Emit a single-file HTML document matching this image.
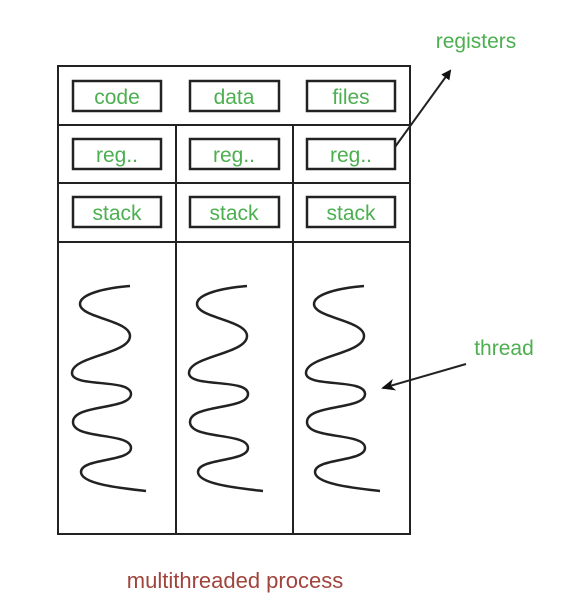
<!DOCTYPE html>
<html><head><style>
body{margin:0;background:#fff;width:567px;height:608px;overflow:hidden}
text{font-family:"Liberation Sans",sans-serif}
</style></head><body>
<svg width="567" height="608" viewBox="0 0 567 608">
<defs><marker id="a" markerWidth="10" markerHeight="10" refX="8" refY="5" orient="auto" markerUnits="userSpaceOnUse"><path d="M0,0 L10,5 L0,10 Z" fill="#111"/></marker>
<marker id="b" markerWidth="14" markerHeight="12" refX="12" refY="6" orient="auto" markerUnits="userSpaceOnUse"><path d="M0,0 L14,6 L0,12 L4,6 Z" fill="#111"/></marker></defs>
<g stroke="#222" stroke-width="2" fill="none">
<rect x="58" y="66" width="352" height="468"/>
<line x1="58" y1="125" x2="410" y2="125"/>
<line x1="58" y1="183" x2="410" y2="183"/>
<line x1="58" y1="242" x2="410" y2="242"/>
<line x1="176" y1="125" x2="176" y2="534"/>
<line x1="293" y1="125" x2="293" y2="534"/>
<g stroke-width="2.5">
<rect x="73" y="81" width="88" height="30"/><rect x="190" y="81" width="89" height="30"/><rect x="307" y="81" width="88" height="30"/>
<rect x="73" y="139" width="88" height="30"/><rect x="190" y="139" width="89" height="30"/><rect x="307" y="139" width="88" height="30"/>
<rect x="73" y="197" width="88" height="30"/><rect x="190" y="197" width="89" height="30"/><rect x="307" y="197" width="88" height="30"/>
</g>
<g id="s"><path d="M130,286 C105,288 80,294 80,304 C80,318 130,320 130,336 C130,354 72,356 72,373 C72,388 131,378 131,394 C131,410 73,404 73,422 C73,440 131,432 131,448 C131,462 81,458 81,472 C81,484 120,488 146,491" stroke-width="2.5"/></g>
<use href="#s" x="117"/>
<use href="#s" x="234"/>
<line x1="395" y1="147" x2="450" y2="71" marker-end="url(#a)"/>
<line x1="466" y1="364" x2="383" y2="388" marker-end="url(#b)"/>
</g>
<g fill="#4caf50" font-size="21" text-anchor="middle">
<text x="117" y="104">code</text><text x="234" y="104">data</text><text x="351" y="104">files</text>
<text x="117" y="162">reg..</text><text x="234" y="162">reg..</text><text x="351" y="162">reg..</text>
<text x="117" y="220">stack</text><text x="234" y="220">stack</text><text x="351" y="220">stack</text>
<text x="476" y="48">registers</text>
<text x="504" y="355">thread</text>
</g>
<text x="235" y="588" fill="#a0443c" font-size="22" text-anchor="middle">multithreaded process</text>
</svg>
</body></html>
